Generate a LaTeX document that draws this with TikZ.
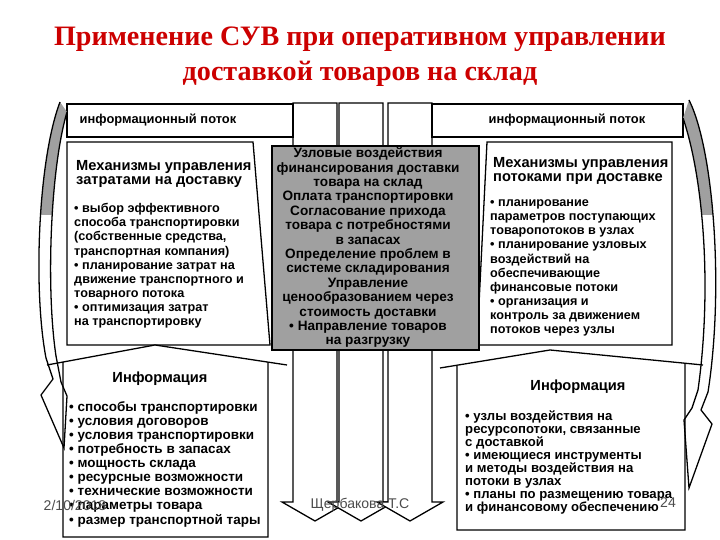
\documentclass[tikz,border=0pt]{standalone}
\usepackage{fontspec}
\setmainfont{Liberation Serif}
\setsansfont{Liberation Sans}
\usetikzlibrary{positioning}
\definecolor{titlered}{RGB}{204,0,0}
\definecolor{halftone}{RGB}{160,160,160}

\begin{document}
\begin{tikzpicture}[
    x=0.03cm, y=-0.03cm,
    outline/.style={line width=1.1pt, line join=miter},
    frame/.style={outline, draw, fill=white},
    grayframe/.style={frame, fill=halftone},
    titletext/.style={font=\bfseries\fontsize{24}{30}\selectfont, text=titlered, align=center},
    bartext/.style={font=\sffamily\bfseries\fontsize{11}{12}\selectfont, inner sep=0pt},
    headtext/.style={font=\sffamily\bfseries\fontsize{12.5}{12}\selectfont, align=left, inner sep=0pt, anchor=base west},
    infohead/.style={font=\sffamily\bfseries\fontsize{12.5}{12}\selectfont, inner sep=0pt, anchor=base},
    listtext/.style={font=\sffamily\bfseries\fontsize{10.8}{12.1}\selectfont, align=left, inner sep=0pt, anchor=base west},
    centertext/.style={font=\sffamily\bfseries\fontsize{11.6}{12.3}\selectfont, align=center, inner sep=0pt, anchor=base},
    slidetext/.style={font=\sffamily\fontsize{12}{14}\selectfont, text=black!70, inner sep=0pt}
]
\useasboundingbox (0,0) rectangle (720,540);

\node[titletext] (title) at (360,57) {Применение СУВ при оперативном управлении\\доставкой товаров на склад};

% block arrows running down behind the centre
\foreach \cx in {315,361,410}
  \draw[frame] (\cx-22,103) -- (\cx+22,103) -- (\cx+22,502) -- (\cx+33,502)
        -- (\cx,521) -- (\cx-33,502) -- (\cx-22,502) -- cycle;

% information flow bars
\draw[frame] (67,104) rectangle (293,137);
\draw[frame] (432,104) rectangle (683,137);
\node[bartext] (flowL) at (158,120) {информационный поток};
\node[bartext] (flowR) at (567,120) {информационный поток};

% mechanisms
\draw[frame] (67,142) -- (253,142) -- (270,345) -- (67,345) -- cycle;
\draw[frame] (487,142) -- (672,142) -- (672,345) -- (477,345) -- cycle;
\draw[grayframe] (272,146) rectangle (479,350);

% information boxes
\fill[white] (63,537) -- (63,362) -- (155,345) -- (268,362) -- (268,537) -- cycle;
\draw[outline] (47,365) -- (155,345) -- (287,365) (63,362) -- (63,537) -- (268,537) -- (268,362);
\fill[white] (457,365) -- (550,350) -- (685,363) -- (685,530) -- (457,530) -- cycle;
\draw[outline] (440,368) -- (550,350) -- (703,365) (457,365) -- (457,530) -- (685,530) -- (685,363);

% curved side flows
\begin{scope}
  \clip (0,95) rectangle (720,215);
  \fill[halftone] (60,102) .. controls (38,160) and (33,290) .. (46,358) -- (56,356)
        .. controls (46,290) and (50,170) .. (67,112) -- cycle;
  \fill[halftone] (689,100) .. controls (714,150) and (724,290) .. (708,392) -- (698,390)
        .. controls (712,290) and (704,180) .. (683,118) -- cycle;
\end{scope}
\draw[outline] (60,102) .. controls (38,160) and (33,290) .. (46,358) -- (53,379) -- (41,395)
      -- (64,448) -- (67,396) -- (61,382) -- (56,356) .. controls (46,290) and (50,170) .. (67,112);
\draw[outline] (689,100) .. controls (714,150) and (724,290) .. (708,392) -- (701,410) -- (712,424)
      -- (689,488) -- (684,420) -- (692,408) -- (698,390) .. controls (712,290) and (704,180) .. (683,118);

% multi-line nodes sit on the baseline of their last line
\node[headtext] (mechLhead) at (76,185) {Механизмы управления\\затратами на доставку};
\node[listtext] (mechLlist) at (74,326) {• выбор эффективного\\способа транспортировки\\(собственные средства,\\транспортная компания)\\• планирование затрат на\\движение транспортного и\\товарного потока\\• оптимизация затрат\\на транспортировку};

\node[headtext] (mechRhead) at (493,182) {Механизмы управления\\потоками при доставке};
\node[listtext] (mechRlist) at (490,334) {• планирование\\параметров поступающих\\товаропотоков в узлах\\• планирование узловых\\воздействий на\\обеспечивающие\\финансовые потоки\\• организация и\\контроль за движением\\потоков через узлы};

\node[centertext] (nodal) at (368,345) {Узловые воздействия\\финансирования доставки\\товара на склад\\Оплата транспортировки\\Согласование прихода\\товара с потребностями\\в запасах\\Определение проблем в\\системе складирования\\Управление\\ценообразованием через\\стоимость доставки\\• Направление товаров\\на разгрузку};

\node[infohead] (infoLhead) at (160,382) {Информация};
\node[listtext, font=\sffamily\bfseries\fontsize{11.5}{12}\selectfont] (infoLlist) at (69,524) {• способы транспортировки\\• условия договоров\\• условия транспортировки\\• потребность в запасах\\• мощность склада\\• ресурсные возможности\\• технические возможности\\• параметры товара\\• размер транспортной тары};

\node[infohead] (infoRhead) at (578,391) {Информация};
\node[listtext, font=\sffamily\bfseries\fontsize{11.2}{11}\selectfont] (infoRlist) at (465,511) {• узлы воздействия на\\ресурсопотоки, связанные\\с доставкой\\• имеющиеся инструменты\\и методы воздействия на\\потоки в узлах\\• планы по размещению товара\\и финансовому обеспечению};

\node[slidetext] (date) at (75,505) {2/10/2018};
\node[slidetext] (author) at (360,505) {Щербакова Т.С};
\node[slidetext] (page) at (668,503) {24};
\end{tikzpicture}
\end{document}
